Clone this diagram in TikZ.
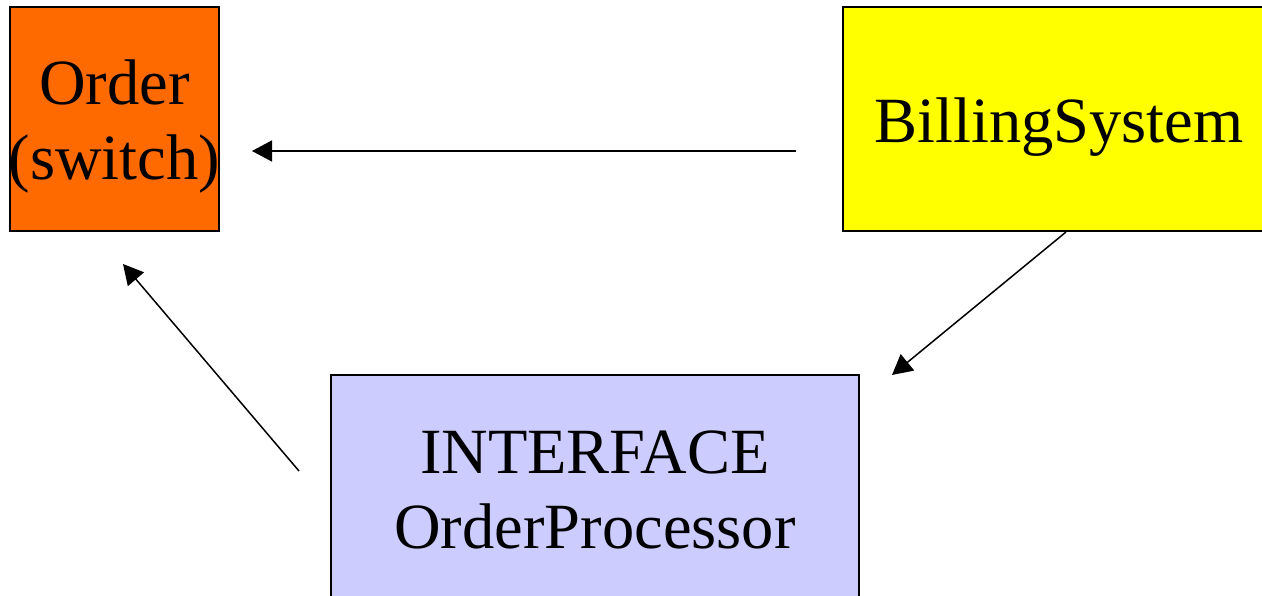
\documentclass[tikz,border=0pt]{standalone}
\usepackage{fontspec}
\setmainfont{Liberation Serif}
\usetikzlibrary{arrows.meta}
\definecolor{orderorange}{HTML}{FF6A00}
\definecolor{billyellow}{HTML}{FFFF00}
\definecolor{ifacelilac}{HTML}{CCCCFF}
\begin{document}
\begin{tikzpicture}[x=1pt,y=-1pt,
  box/.style={draw=black, line width=1.5pt, rectangle, inner sep=0pt},
  lbl/.style={font=\fontsize{64.5}{75}\selectfont, align=center, inner sep=0pt},
  flow/.style={line width=1.5pt, -{Triangle[length=20pt,width=21pt]}}]
  \useasboundingbox (0,0) rectangle (1262,596);
  \clip (0,0) rectangle (1262,596);

  % boxes
  \node[box, fill=orderorange, minimum width=209pt, minimum height=224pt] (order) at (114.5,119) {};
  \node[box, fill=billyellow, minimum width=432pt, minimum height=224pt] (billing) at (1059,119) {};
  \node[box, fill=ifacelilac, minimum width=528pt, minimum height=245pt] (iface) at (595,497.5) {};

  % labels
  \node[lbl] (order-text) at (114.5,126) {Order\\(switch)};
  \node[lbl, anchor=base] (billing-text) at (1059,143) {BillingSystem};
  \node[lbl] (iface-text) at (595,490) {INTERFACE\\OrderProcessor};

  % free arrow ends
  \coordinate (a1s) at (796,151);
  \coordinate (a1e) at (252,151);
  \coordinate (a2s) at (1066,232);
  \coordinate (a2e) at (892,375);
  \coordinate (a3s) at (299,471);
  \coordinate (a3e) at (123,264);

  \draw[flow] (a1s) -- (a1e);
  \draw[flow] (a2s) -- (a2e);
  \draw[flow] (a3s) -- (a3e);
\end{tikzpicture}
\end{document}
